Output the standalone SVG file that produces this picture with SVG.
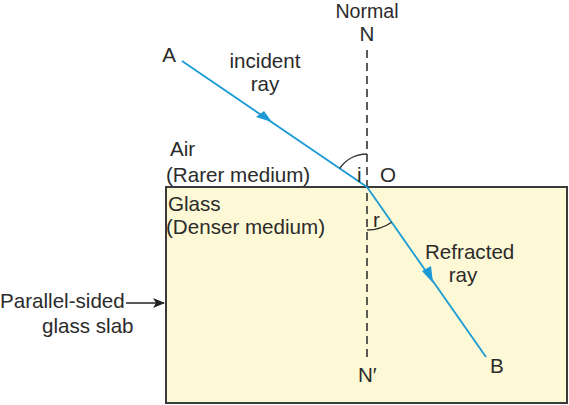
<svg xmlns="http://www.w3.org/2000/svg" width="569" height="405" viewBox="0 0 569 405">
<style>
text{font-family:"Liberation Sans",Arial,sans-serif;font-size:20.6px;fill:#2b2b2b}
.ray{stroke:#1b9ad6;stroke-width:1.8;fill:none}
.ah{fill:#1b9ad6}
.normal{stroke:#333;stroke-width:1.6;stroke-dasharray:8 5;fill:none}
.arc{stroke:#333;stroke-width:1.4;fill:none}
</style>
<defs>
<marker id="blk" markerWidth="12" markerHeight="10" refX="11" refY="5" orient="auto" markerUnits="userSpaceOnUse">
<path d="M0,0 L12,5 L0,10 L3,5 Z" fill="#222"/>
</marker>
</defs>
<g id="slab">
<rect x="166" y="187" width="401" height="216" fill="#fdf8d5" stroke="#3a3a3a" stroke-width="2"/>
</g>
<g id="connectors">
<line class="normal" x1="367" y1="50" x2="367" y2="360"/>
<line class="ray" x1="182" y1="61" x2="367" y2="187"/>
<line class="ray" x1="367" y1="187" x2="486" y2="357"/>
<path class="ah" d="M272,122 L256,117 L264,111 Z"/>
<path class="ah" d="M433,283 L422,271 L431,266 Z"/>
<path class="arc" d="M367,154 A33,33 0 0 0 339.7,168.4"/>
<path class="arc" d="M367,230 A43,43 0 0 0 391.6,222.2"/>
<line x1="126" y1="303" x2="164" y2="303" stroke="#222" stroke-width="1.6" marker-end="url(#blk)"/>
</g>
<g id="labels">
<text x="367" y="18" text-anchor="middle" style="font-size:19.6px">Normal</text>
<text x="367" y="41" text-anchor="middle">N</text>
<text x="169" y="62" text-anchor="middle">A</text>
<text x="265" y="68" text-anchor="middle">incident</text>
<text x="265" y="91" text-anchor="middle">ray</text>
<text x="170" y="156">Air</text>
<text x="166" y="182">(Rarer medium)</text>
<text x="357" y="182">i</text>
<text x="380" y="182">O</text>
<text x="168" y="211">Glass</text>
<text x="166" y="234">(Denser medium)</text>
<text x="373" y="227">r</text>
<text x="425" y="259">Refracted</text>
<text x="463" y="282" text-anchor="middle">ray</text>
<text x="0" y="308">Parallel-sided</text>
<text x="42" y="333">glass slab</text>
<text x="358" y="382">N′</text>
<text x="490" y="373">B</text>
</g>
</svg>
